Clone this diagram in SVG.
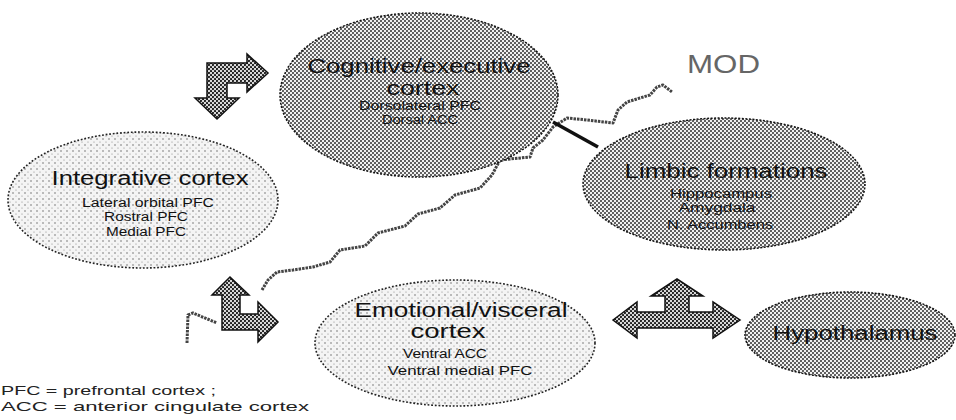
<svg xmlns="http://www.w3.org/2000/svg" width="956" height="420" viewBox="0 0 956 420">
<defs>
<pattern id="dark" width="4" height="4" patternUnits="userSpaceOnUse">
<rect width="4" height="4" fill="#d8d8d8"/>
<circle cx="1" cy="1" r="1.05" fill="#111"/>
<circle cx="3" cy="3" r="1.05" fill="#111"/>
</pattern>
<pattern id="mid" width="4" height="4" patternUnits="userSpaceOnUse">
<rect width="4" height="4" fill="#f2f2f2"/>
<circle cx="1" cy="1" r="0.95" fill="#222"/>
<circle cx="3" cy="3" r="0.95" fill="#222"/>
</pattern>
<pattern id="light" width="6" height="6" patternUnits="userSpaceOnUse">
<rect width="6" height="6" fill="#f4f4f4"/>
<circle cx="1" cy="1" r="0.7" fill="#555"/>
<circle cx="4" cy="4" r="0.6" fill="#888"/>
</pattern>
<style>
.dk{fill:url(#mid);stroke:#111;stroke-width:1.5;stroke-dasharray:2 1.5}
.lt{fill:url(#light);stroke:#222;stroke-width:1.6;stroke-dasharray:1.8 1.8}
.h{font-family:"Liberation Sans",Arial,sans-serif;font-size:20px;fill:#111;text-anchor:middle}
.s{font-family:"Liberation Sans",Arial,sans-serif;font-size:12.5px;fill:#111;text-anchor:middle}
.arr{fill:url(#dark);stroke:#111;stroke-width:1.5}
.sq{fill:none;stroke:#444;stroke-width:3;stroke-dasharray:2.5 1;stroke-linejoin:round}
.lg{font-family:"Liberation Sans",Arial,sans-serif;font-size:13px;fill:#222}
</style>
</defs>
<rect width="956" height="420" fill="#fff"/>

<g id="connectors">
<path class="sq" d="M187,343 L188,315 L193,313 L217,323 M262,290 L268,280 L277,272 L293,270 L313,267 L330,262 L340,250 L365,246 L378,233 L405,226 L418,214 L440,208 L455,195 L480,188 L492,175 L500,160 L530,157 L533,148 L543,140 L553,127 L567,118 L587,120 L613,123 L618,110 L627,102 L640,98 L650,95 L657,87 L663,85 L672,92"/>
<line x1="553" y1="122" x2="598" y2="147" stroke="#111" stroke-width="3.5"/>
<polygon class="arr" points="207,63 247,63 247,54 268,73 247,92 247,83 227,83 227,98 239,98 217,119 195,98 207,98"/>
<polygon class="arr" points="230,277 249,295 240,295 240,314 258,314 258,302 278,322 258,342 258,330 222,330 222,295 212,295"/>
<polygon class="arr" points="613,320 637,302 637,312 665,312 665,296 651,296 677,279 703,296 689,296 689,312 713,312 713,302 740,320 713,338 713,328 637,328 637,338"/>
</g>

<g id="cognitive">
<ellipse class="dk" cx="419" cy="95" rx="139" ry="82"/>
<text class="h" x="419" y="73" textLength="223" lengthAdjust="spacingAndGlyphs">Cognitive/executive</text>
<text class="h" x="423" y="95" textLength="73" lengthAdjust="spacingAndGlyphs">cortex</text>
<text class="s" x="420" y="110" textLength="122" lengthAdjust="spacingAndGlyphs">Dorsolateral PFC</text>
<text class="s" x="420" y="124" textLength="76" lengthAdjust="spacingAndGlyphs">Dorsal ACC</text>
</g>

<g id="mod">
<text x="687" y="73" font-family="Liberation Sans, Arial, sans-serif" font-size="26" fill="#666" textLength="73" lengthAdjust="spacingAndGlyphs">MOD</text>
</g>

<g id="integrative">
<ellipse class="lt" cx="143" cy="200" rx="135" ry="68"/>
<text class="h" x="150" y="185" textLength="197" lengthAdjust="spacingAndGlyphs">Integrative cortex</text>
<text class="s" x="148" y="207" textLength="132" lengthAdjust="spacingAndGlyphs">Lateral orbital PFC</text>
<text class="s" x="146" y="221" textLength="84" lengthAdjust="spacingAndGlyphs">Rostral PFC</text>
<text class="s" x="146" y="236" textLength="80" lengthAdjust="spacingAndGlyphs">Medial PFC</text>
</g>

<g id="limbic">
<ellipse class="dk" cx="724" cy="184" rx="141" ry="66"/>
<text class="h" x="726" y="178" textLength="203" lengthAdjust="spacingAndGlyphs">Limbic formations</text>
<text class="s" x="721" y="198" textLength="102" lengthAdjust="spacingAndGlyphs">Hippocampus</text>
<text class="s" x="717" y="212" textLength="77" lengthAdjust="spacingAndGlyphs">Amygdala</text>
<text class="s" x="720" y="229" textLength="106" lengthAdjust="spacingAndGlyphs">N. Accumbens</text>
</g>

<g id="emotional">
<ellipse class="lt" cx="455" cy="343" rx="140" ry="63"/>
<text class="h" x="461" y="317" textLength="213" lengthAdjust="spacingAndGlyphs">Emotional/visceral</text>
<text class="h" x="448" y="338" textLength="75" lengthAdjust="spacingAndGlyphs">cortex</text>
<text class="s" x="445" y="358" textLength="84" lengthAdjust="spacingAndGlyphs">Ventral ACC</text>
<text class="s" x="460" y="375" textLength="145" lengthAdjust="spacingAndGlyphs">Ventral medial PFC</text>
</g>

<g id="hypothalamus">
<ellipse class="dk" cx="850" cy="335" rx="105" ry="43"/>
<text class="h" x="855" y="340" textLength="165" lengthAdjust="spacingAndGlyphs">Hypothalamus</text>
</g>

<g id="legend">
<text class="lg" x="1" y="395" textLength="215" lengthAdjust="spacingAndGlyphs">PFC = prefrontal cortex ;</text>
<text class="lg" x="1" y="411" textLength="308" lengthAdjust="spacingAndGlyphs">ACC = anterior cingulate cortex</text>
</g>
</svg>
